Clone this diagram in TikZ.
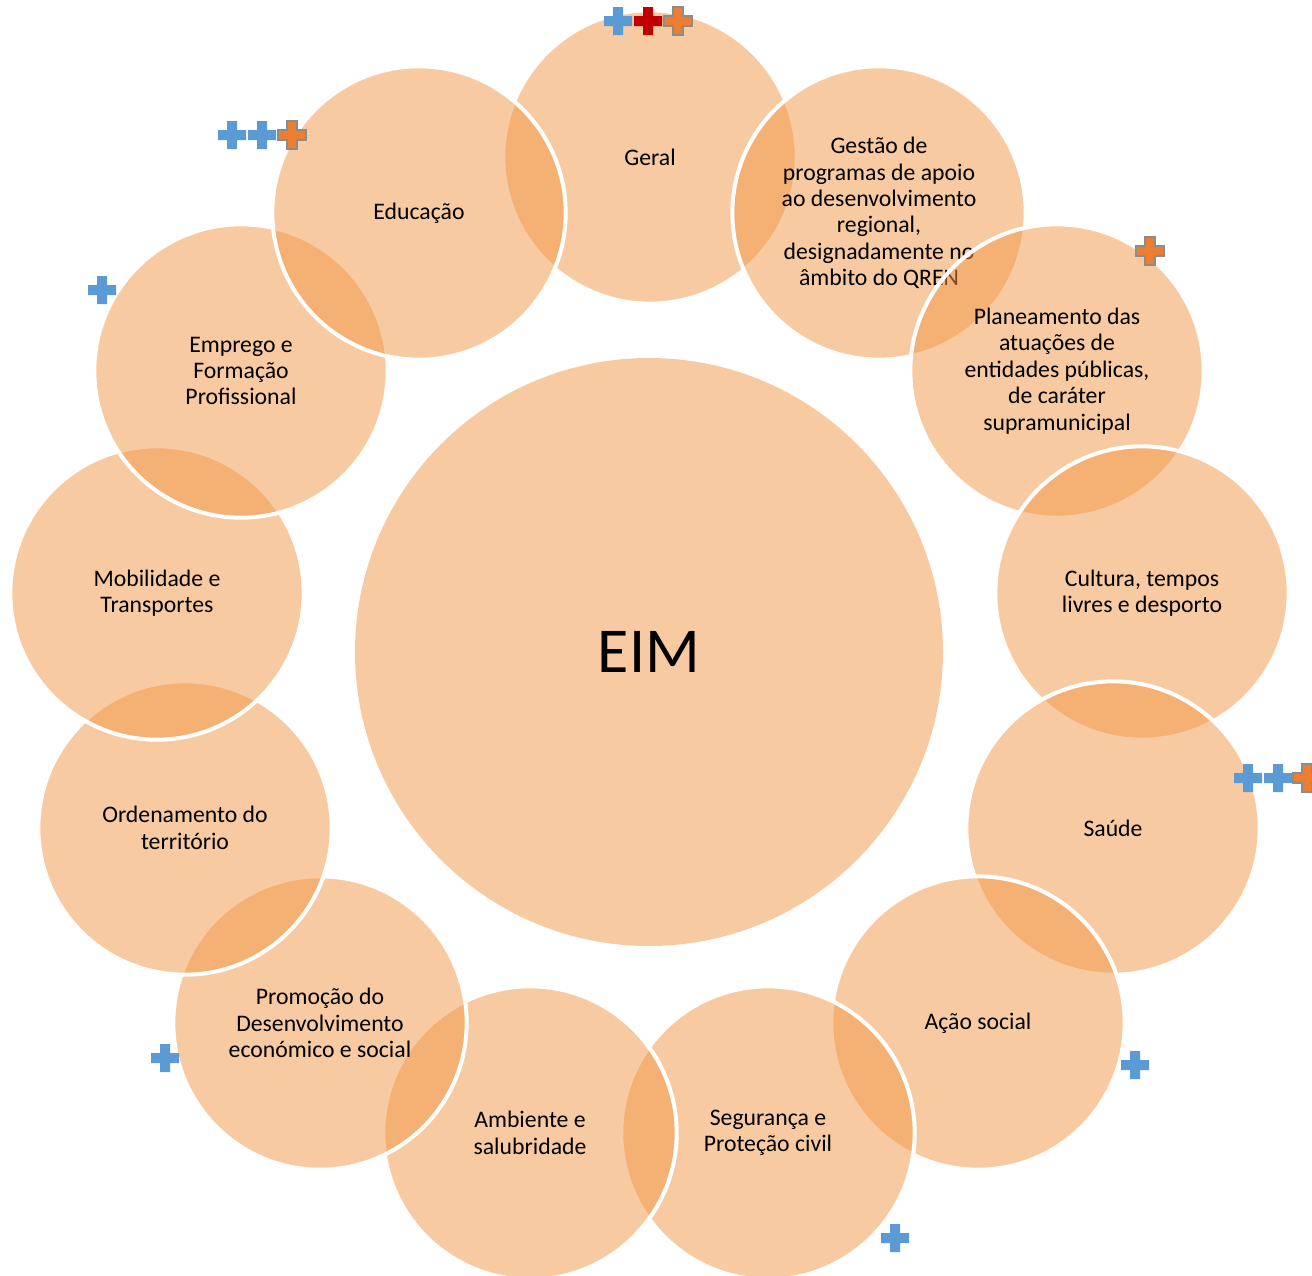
\documentclass[tikz,border=0pt]{standalone}
\usepackage{fontspec}
\setmainfont{Carlito}
\definecolor{circfill}{RGB}{242,150,70}
\definecolor{plusblue}{RGB}{91,155,213}
\definecolor{plusred}{RGB}{192,0,0}
\definecolor{plusorange}{RGB}{237,125,49}
\begin{document}
\begin{tikzpicture}[x=0.75pt,y=-0.75pt,
  item/.style={circle, fill=circfill, fill opacity=0.5, text opacity=1,
    draw=white, line width=3pt, minimum size=220pt, inner sep=0pt,
    align=center, text=black, font=\fontsize{17.8}{19.8}\selectfont},
  hub/.style={circle, fill=circfill, fill opacity=0.5, text opacity=1,
    draw=none, minimum size=441pt, inner sep=0pt, text=black,
    font=\fontsize{48}{58}\selectfont},
  pics/plusmark/.style={code={\path[pic actions] (-14,-5) -- (-5,-5) -- (-5,-14) -- (5,-14) -- (5,-5) -- (14,-5) -- (14,5) -- (5,5) -- (5,14) -- (-5,14) -- (-5,5) -- (-14,5) -- cycle;}},
  pb/.style={fill=plusblue},
  pr/.style={fill=plusred},
  po/.style={fill=plusorange, draw=black!45, line width=0.8pt}
]
\useasboundingbox (0,0) rectangle (1312,1275);

\node[hub] (eim) at (649,652) {EIM};

\node[item] (geral) at (650,157) {Geral};
\node[item] (gestao) at (879,213) {Gestão de\\programas de apoio\\ao desenvolvimento\\regional,\\designadamente no\\âmbito do QREN};
\node[item] (plan) at (1057,371) {Planeamento das\\atuações de\\entidades públicas,\\de caráter\\supramunicipal};
\node[item] (cultura) at (1142,593) {Cultura, tempos\\livres e desporto};
\node[item] (saude) at (1113,828) {Saúde};
\node[item] (acao) at (978,1023) {Ação social};
\node[item] (seg) at (768,1133) {Segurança e\\Proteção civil};
\node[item] (amb) at (530,1133) {Ambiente e\\salubridade};
\node[item] (prom) at (320,1023) {Promoção do\\Desenvolvimento\\económico e social};
\node[item] (ord) at (185,828) {Ordenamento do\\território};
\node[item] (mob) at (157,593) {Mobilidade e\\Transportes};
\node[item] (emp) at (241,371) {Emprego e\\Formação\\Profissional};
\node[item] (edu) at (419,213) {Educação};

% plus marks
\pic[pb] at (618,21) {plusmark};
\pic[pr] at (648,21) {plusmark};
\pic[po] at (678,21) {plusmark};

\pic[pb] at (232,135) {plusmark};
\pic[pb] at (262,135) {plusmark};
\pic[po] at (292,135) {plusmark};

\pic[pb] at (102,290) {plusmark};
\pic[po] at (1150,251) {plusmark};

\pic[pb] at (1248,778) {plusmark};
\pic[pb] at (1278,778) {plusmark};
\pic[po] at (1307,778) {plusmark};

\pic[pb] at (1135,1065) {plusmark};
\pic[pb] at (895,1238) {plusmark};
\pic[pb] at (165,1058) {plusmark};
\end{tikzpicture}
\end{document}
